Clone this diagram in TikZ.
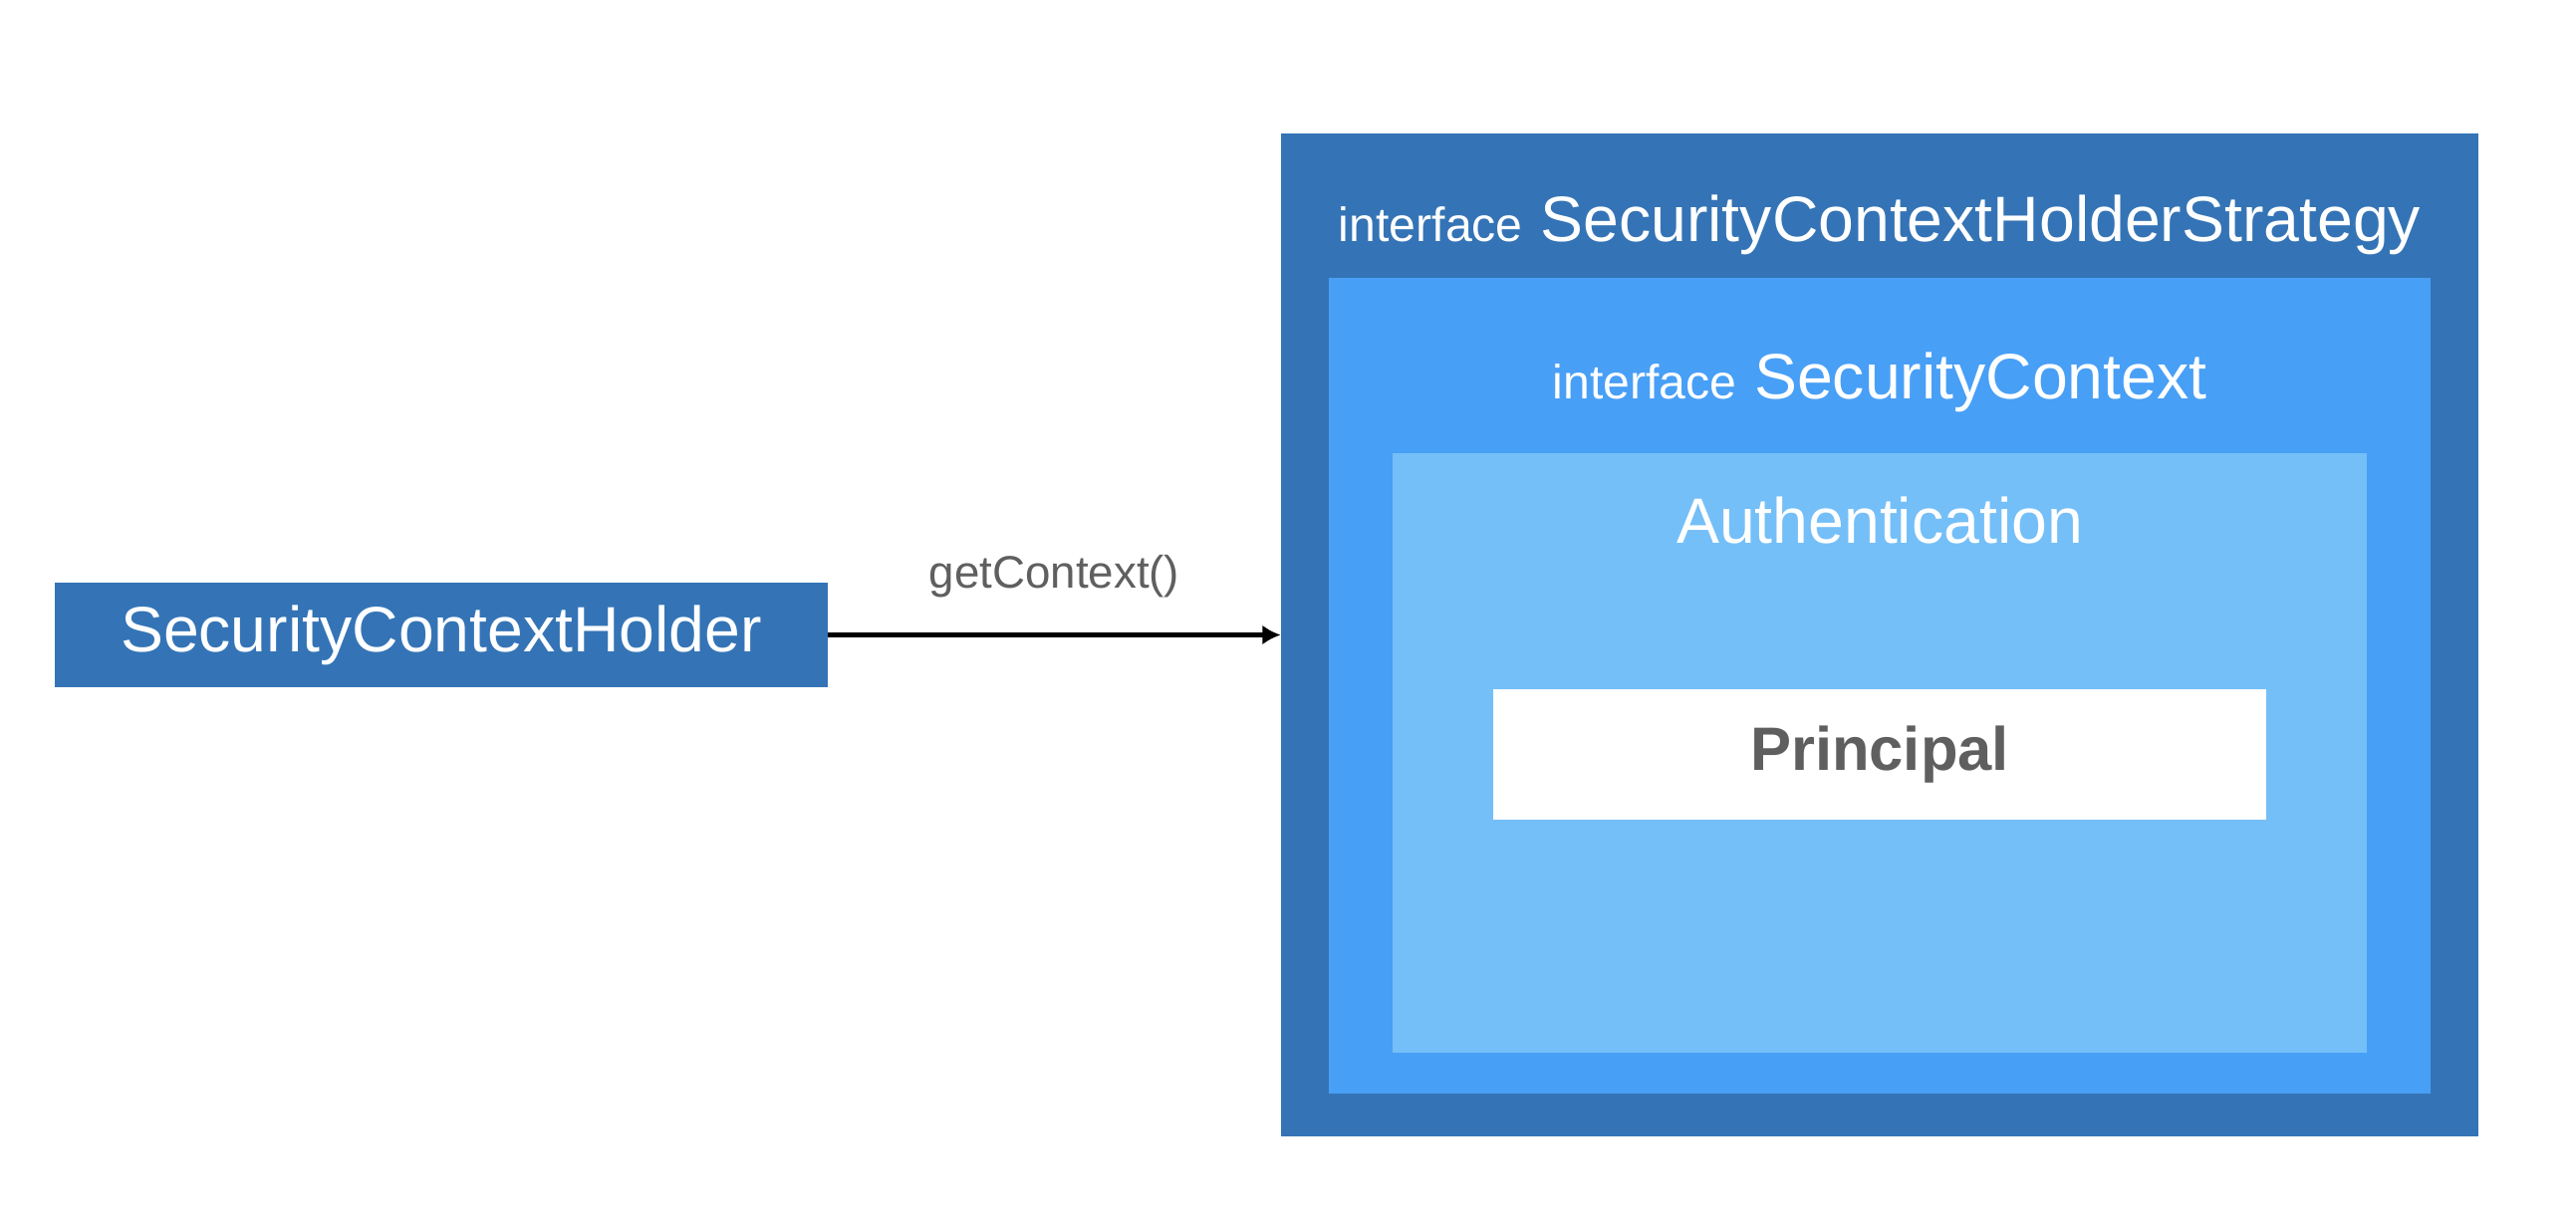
\documentclass[tikz,border=0pt]{standalone}
\usepackage{fontspec}
\setmainfont{Liberation Sans}
\usetikzlibrary{arrows.meta}
\definecolor{darkblue}{HTML}{3474B6}
\definecolor{midblue}{HTML}{489FF6}
\definecolor{lightblue}{HTML}{74BFF8}
\definecolor{textgray}{HTML}{5F5F5F}
\newcommand{\ifacetxt}{{\fontsize{13.7}{16}\selectfont interface}}
\begin{document}
\begin{tikzpicture}[x=0.01cm,y=-0.01cm,
  box/.style={rectangle,inner sep=0pt,outer sep=0pt},
  boxtitle/.style={anchor=base,text=white,font=\fontsize{18.3}{21}\selectfont}]
  \useasboundingbox[fill=white] (0,0) rectangle (2586,1236);
  % holder on the left
  \node[box,fill=darkblue,minimum width=7.76cm,minimum height=1.05cm,
    text=white,font=\fontsize{18.3}{21}\selectfont] (holder) at (443,637.5) {SecurityContextHolder};

  % nested boxes (outer to inner)
  \node[box,fill=darkblue,minimum width=12.02cm,minimum height=10.07cm] (strategy) at (1887,637.5) {};
  \node[box,fill=midblue,minimum width=11.06cm,minimum height=8.19cm] (context) at (1887,688.5) {};
  \node[box,fill=lightblue,minimum width=9.78cm,minimum height=6.02cm] (auth) at (1887,756) {};
  \node[box,fill=white,minimum width=7.76cm,minimum height=1.31cm,
    text=textgray,font=\fontsize{17.5}{20}\selectfont\bfseries] (principal) at (1887,757.5) {Principal};

  % titles of the boxes
  \node[boxtitle] (strategytitle) at (1887,242) {\ifacetxt{} SecurityContextHolderStrategy};
  \node[boxtitle] (contexttitle) at (1887,400) {\ifacetxt{} SecurityContext};
  \node[boxtitle] (authtitle) at (1887,545) {Authentication};

  % call
  \draw[-{Latex[length=5.2pt,width=5.6pt]},line width=1.4pt] (holder) --
    node[anchor=base,yshift=4.7mm,text=textgray,font=\fontsize{13}{15}\selectfont] (call) {getContext()} (strategy);
\end{tikzpicture}
\end{document}
